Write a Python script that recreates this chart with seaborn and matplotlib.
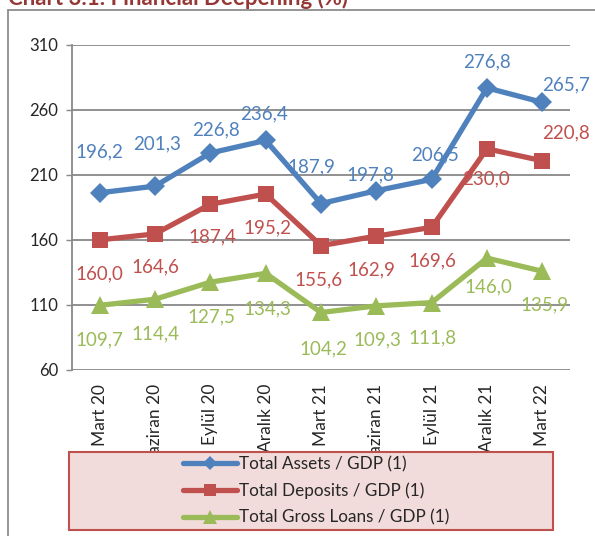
import matplotlib
matplotlib.use("Agg")
import matplotlib.pyplot as plt
import seaborn as sns
import pandas as pd
from matplotlib.patches import Rectangle
from matplotlib.lines import Line2D

categories = ["Mart 20", "Haziran 20", "Eylül 20", "Aralık 20", "Mart 21",
              "Haziran 21", "Eylül 21", "Aralık 21", "Mart 22"]
total_assets = [196.2, 201.3, 226.8, 236.4, 187.9, 197.8, 206.5, 276.8, 265.7]
total_deposits = [160.0, 164.6, 187.4, 195.2, 155.6, 162.9, 169.6, 230.0, 220.8]
total_loans = [109.7, 114.4, 127.5, 134.3, 104.2, 109.3, 111.8, 146.0, 135.9]
series_names = ["Total Assets / GDP (1)", "Total Deposits / GDP (1)",
                "Total Gross Loans / GDP (1)"]
y_ticks = [60, 110, 160, 210, 260, 310]

# label offsets in pixels (dx, dy with dy downward)
label_offsets = [
    [(0, -41), (2, -42), (6, -23), (-2, -27), (-10, -37), (-6, -16), (3, -24), (0, -26), (24, -17)],
    [(0, 34), (0, 33), (2, 33), (2, 34), (-3, 34), (-5, 34), (1, 33), (-1, 30), (24, -28)],
    [(0, 35), (0, 35), (1, 35), (2, 36), (2, 36), (1, 34), (1, 35), (1, 29), (2, 34)],
]
colors = ["#4f81bd", "#c0504d", "#9bbb59"]
markers = ["D", "s", "^"]
msizes = [10, 11.5, 13]

sns.set_style("white")
plt.rcParams["font.family"] = ["Lato", "DejaVu Sans"]

W, H = 595, 536
fig = plt.figure(figsize=(W / 100, H / 100), dpi=100)
ax = fig.add_axes([72 / W, 1 - 370 / H, (570 - 72) / W, (370 - 44.7) / H])

xs = list(range(len(categories)))
all_vals = [total_assets, total_deposits, total_loans]
for vals, name, c, m, ms, offs in zip(all_vals, series_names, colors, markers, msizes, label_offsets):
    df = pd.DataFrame({"x": xs, "y": vals})
    sns.lineplot(data=df, x="x", y="y", ax=ax, color=c, lw=3.8, marker=m,
                 markersize=ms, markeredgewidth=0, zorder=3, label=name)
    for xi, v, (dx, dy) in zip(xs, vals, offs):
        ax.annotate(f"{v:.1f}".replace(".", ","), (xi, v),
                    xytext=(dx * 0.72, -dy * 0.72), textcoords="offset points",
                    ha="center", va="center", color=c, fontsize=13.5, zorder=1)

ax.set_xlim(-0.5, len(categories) - 0.5)
ax.set_ylim(60, 310)
ax.set_yticks(y_ticks)
ax.set_xticks(xs)
ax.set_xticklabels(categories, rotation=90, fontsize=12.5)
ax.tick_params(axis="y", labelsize=12, length=4, color="#888888", width=1, pad=6, left=True)
ax.tick_params(axis="x", length=0, pad=10)
ax.set_xlabel("")
ax.set_ylabel("")
ax.grid(axis="y", color="#888888", lw=1.3)
ax.set_axisbelow(True)
for s in ["top", "right", "bottom"]:
    ax.spines[s].set_visible(False)
ax.spines["left"].set_color("#888888")
ax.spines["left"].set_linewidth(1.3)
if ax.get_legend():
    ax.get_legend().remove()

# outer chart border
fig.add_artist(Line2D([8 / W, 1], [1 - 10 / H, 1 - 10 / H], color="#8c8c8c", lw=1.3))
fig.add_artist(Line2D([8 / W, 8 / W], [0, 1 - 10 / H], color="#8c8c8c", lw=1.3))

# title (cropped at top, as in the reference)
fig.text(8 / W, 1 - 5 / H, "Chart 3.1: Financial Deepening (%)", fontsize=16,
         fontweight="bold", color="#953735", ha="left", va="baseline")

# legend box
rect = Rectangle((69 / W, 1 - 530 / H), (553 - 69) / W, (530 - 452) / H,
                 transform=fig.transFigure, facecolor="#f2dcdb", edgecolor="#c0504d",
                 lw=1.5, zorder=5)
fig.add_artist(rect)
handles = [Line2D([], [], color=c, lw=3.8, marker=m, markersize=ms * 0.75, markeredgewidth=0)
           for c, m, ms in zip(colors, markers, msizes)]
leg = fig.legend(handles, series_names, loc="center", bbox_to_anchor=(316 / W, 1 - 491 / H),
                 frameon=False, fontsize=12.3, handlelength=3.2, handletextpad=0.1,
                 labelspacing=0.6, numpoints=1, borderpad=0)
leg.set_zorder(6)

fig.savefig("out.png", dpi=100)
